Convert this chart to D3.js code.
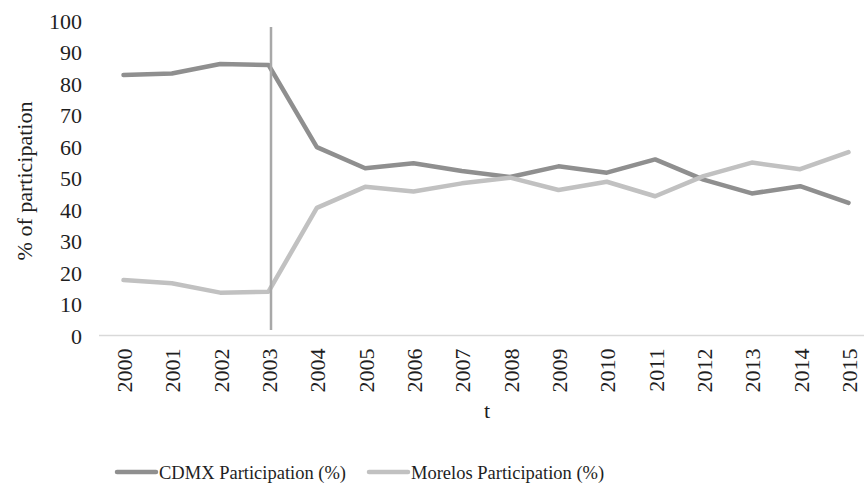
<!DOCTYPE html>
<html><head><meta charset="utf-8">
<script src="https://cdn.jsdelivr.net/npm/d3@7"></script>
<style>body{margin:0;background:#fff}svg{display:block}</style>
</head><body>
<svg id="c" width="864" height="487"></svg>
<script>
const years = ["2000","2001","2002","2003","2004","2005","2006","2007","2008","2009","2010","2011","2012","2013","2014","2015"];
const cdmx = [82.7,83.2,86.2,85.9,59.8,53.1,54.7,52.2,50.3,53.7,51.7,55.9,49.5,45.1,47.4,42.1];
const morelos = [17.6,16.6,13.6,13.9,40.5,47.2,45.7,48.3,50.1,46.2,48.8,44.2,50.6,54.9,52.8,58.2];
const yTicks = [0,10,20,30,40,50,60,70,80,90,100];
const seriesNames = ["CDMX Participation (%)","Morelos Participation (%)"];
const markerYear = "2003";

const svg = d3.select("#c");
const font = "'Liberation Serif', 'DejaVu Serif', serif";
const colors = ["#8f8f8f","#c1c1c1"];

const x = d3.scalePoint().domain(years).range([123.5, 848.5]);
const y = d3.scaleLinear().domain([0,100]).range([335.5, 20.5]);

// baseline axis
svg.append("line").attr("x1",99).attr("x2",872).attr("y1",y(0)).attr("y2",y(0))
  .attr("stroke","#d9d9d9").attr("stroke-width",1.5);

// y tick labels
const yAxis = d3.axisLeft(y).tickValues(yTicks).tickSize(0).tickPadding(0);
const gy = svg.append("g").attr("transform","translate(82,0)").call(yAxis);
gy.select(".domain").remove();
gy.selectAll("text").attr("font-family",font).attr("font-size",22).attr("fill","#1e1e1e").attr("dy","0.35em");

// x tick labels (rotated)
const xAxis = d3.axisBottom(x).tickSize(0).tickPadding(0);
const gx = svg.append("g").attr("transform",`translate(0,${y(0)})`).call(xAxis);
gx.select(".domain").remove();
gx.selectAll("text").attr("font-family",font).attr("font-size",22).attr("fill","#1e1e1e")
  .attr("text-anchor","end").attr("dy",null)
  .attr("transform","translate(8,13) rotate(-90)").attr("x",0).attr("y",0);

// axis titles
svg.append("text").attr("x",487).attr("y",418).attr("text-anchor","middle")
  .attr("font-family",font).attr("font-size",22).attr("fill","#1e1e1e").text("t");
svg.append("text").attr("transform","translate(32,181) rotate(-90)").attr("text-anchor","middle")
  .attr("font-family",font).attr("font-size",22).attr("fill","#1e1e1e").text("% of participation");

// lines
const line = d3.line().x((d,i)=>x(years[i])).y(d=>y(d));
[cdmx, morelos].forEach((s,k)=>{
  svg.append("path").datum(s).attr("d",line).attr("fill","none")
    .attr("stroke",colors[k]).attr("stroke-width",4.5)
    .attr("stroke-linejoin","round").attr("stroke-linecap","round");
});

// vertical marker
svg.append("line").attr("x1",x(markerYear)+2.5).attr("x2",x(markerYear)+2.5)
  .attr("y1",27).attr("y2",330).attr("stroke","#a8a8a8").attr("stroke-width",2.5);

// legend
const leg = [{x:117, w:39}, {x:369, w:39}];
seriesNames.forEach((n,k)=>{
  svg.append("line").attr("x1",leg[k].x).attr("x2",leg[k].x+leg[k].w).attr("y1",472).attr("y2",472)
    .attr("stroke",colors[k]).attr("stroke-width",4.5).attr("stroke-linecap","round");
  svg.append("text").attr("x",leg[k].x+leg[k].w+3).attr("y",479)
    .attr("font-family",font).attr("font-size",18.5).attr("fill","#1e1e1e").text(n);
});
</script>
</body></html>
